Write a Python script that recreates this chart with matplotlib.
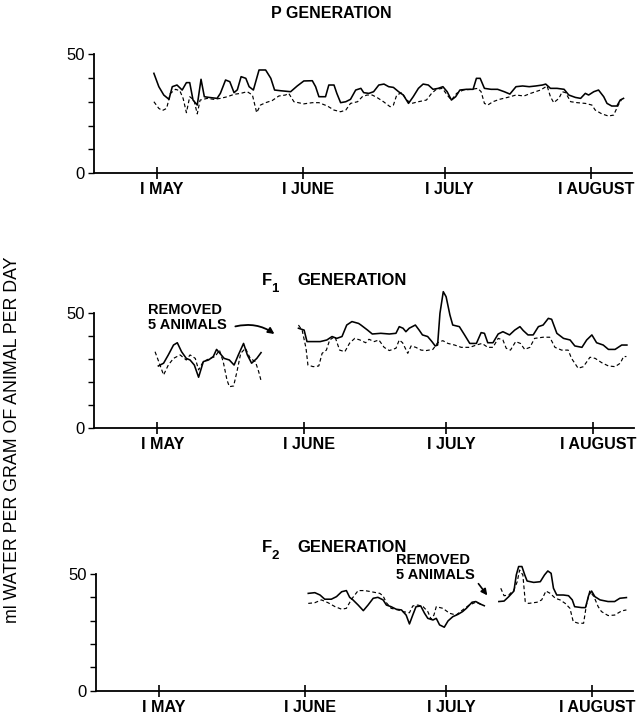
import matplotlib
matplotlib.use("Agg")
import matplotlib.pyplot as plt
import matplotlib.transforms as mtransforms

plt.rcParams['font.family'] = ['Liberation Sans', 'DejaVu Sans']

# ---------------- data (days since 1 May, ml water / g / day) ----------------
month_ticks = [0, 31, 61, 92]
month_labels = ["I MAY", "I JUNE", "I JULY", "I AUGUST"]

# P generation
p_solid_day = [-0.7, 0.35, 1.4, 2.5, 3.2, 4.2, 5.3, 6.2, 6.9, 7.6, 8.5, 9.3, 10.0, 11.0, 12.7, 13.4,
               14.5, 15.4, 16.3, 17.0, 17.8, 18.8, 19.5, 20.4, 21.6, 23.0, 24.1, 24.9, 26.2, 28.3,
               29.7, 31.1, 32.9, 33.6, 34.3, 35.7, 36.4, 37.5, 38.1, 38.9, 40.0, 41.0, 42.1, 43.2,
               43.8, 44.9, 45.9, 47.0, 48.1, 49.1, 50.1, 51.2, 52.2, 53.3, 54.3, 55.4, 56.4, 57.5,
               58.5, 59.6, 60.6, 61.5, 62.4, 63.3, 64.2, 65.6, 67.0, 67.7, 68.5, 69.4, 70.8, 72.2,
               73.6, 74.8, 76.1, 77.5, 78.9, 80.3, 81.7, 82.4, 83.4, 84.8, 86.3, 87.3, 88.7, 89.8,
               90.8, 91.5, 92.6, 93.6, 94.7, 95.4, 96.4, 97.5, 98.2, 98.9]
p_solid_val = [41.9, 36.3, 32.8, 31.0, 36.3, 37.0, 34.9, 38.0, 38.0, 30.7, 28.6, 39.4, 32.1, 31.8, 31.4, 33.5,
               39.1, 38.4, 33.8, 35.0, 40.5, 39.8, 36.3, 34.9, 43.3, 43.3, 39.8, 34.9, 34.6, 34.2,
               36.6, 38.7, 38.8, 36.3, 32.1, 32.1, 37.0, 37.0, 33.5, 29.6, 30.0, 31.0, 34.9, 35.6,
               33.8, 33.5, 34.2, 37.0, 37.4, 36.3, 36.0, 34.2, 32.8, 29.3, 32.1, 35.6, 37.4, 37.0,
               35.2, 35.6, 36.3, 34.2, 30.7, 32.1, 34.9, 35.2, 35.2, 39.8, 39.8, 35.6, 35.2, 35.2,
               34.2, 33.2, 36.3, 36.6, 36.3, 36.6, 37.0, 37.4, 35.6, 35.6, 35.2, 32.8, 31.8, 31.4,
               33.5, 32.8, 34.2, 34.9, 32.1, 29.3, 28.2, 28.2, 30.7, 31.4]
p_dash_day = [-0.7, 0.35, 1.1, 2.0, 2.8, 3.9, 4.8, 5.5, 6.2, 6.9, 7.8, 8.5, 9.1, 9.8, 10.6, 12.0, 13.4,
              14.9, 16.3, 17.7, 19.1, 20.2, 21.1, 21.9, 23.0, 24.4, 25.8, 27.2, 27.9, 29.0, 31.1,
              32.9, 34.3, 36.1, 37.5, 38.9, 40.0, 41.0, 42.5, 43.5, 44.5, 45.6, 46.6, 48.0, 49.4,
              50.1, 50.8, 51.9, 52.9, 54.0, 55.4, 57.1, 58.2, 59.2, 60.5, 61.5, 62.4, 63.5, 64.9,
              66.6, 68.0, 68.7, 69.4, 70.1, 71.2, 72.6, 74.3, 76.1, 77.8, 79.2, 81.3, 82.7, 83.4,
              84.1, 85.2, 85.9, 86.6, 87.7, 89.1, 90.8, 92.2, 92.9, 94.3, 95.7, 96.8, 97.8, 98.5]
p_dash_val = [30.0, 27.2, 26.3, 27.2, 33.5, 35.2, 34.6, 31.4, 25.4, 32.1, 30.7, 24.9, 30.7, 31.0, 31.4, 31.0, 31.4,
              32.1, 33.1, 33.5, 34.2, 32.8, 25.4, 28.6, 29.6, 30.5, 32.4, 32.8, 33.5, 30.0, 29.1,
              29.6, 29.6, 28.2, 26.5, 25.8, 26.5, 29.3, 30.0, 32.1, 32.8, 32.8, 31.8, 30.0, 27.9,
              28.6, 32.8, 33.8, 30.7, 29.3, 30.0, 30.7, 33.5, 35.2, 35.6, 32.8, 30.7, 33.5, 34.9,
              35.2, 35.6, 34.2, 29.3, 28.6, 30.0, 31.0, 31.8, 32.8, 32.4, 33.5, 34.9, 36.6, 32.1,
              29.6, 31.4, 34.2, 33.8, 30.0, 29.6, 29.3, 28.6, 26.5, 24.9, 24.0, 24.4, 28.6, 31.0]

# F1 generation, May segment
f1a_solid_day = [0.2, 1.3, 2.3, 3.4, 4.2, 5.1, 6.1, 6.9, 7.8, 8.7, 9.7, 10.8, 11.8, 12.5, 13.2, 14.1,
                 15.2, 16.2, 17.1, 18.2, 19.0, 19.9, 21.0, 21.9]
f1a_solid_val = [27.1, 28.3, 31.9, 36.2, 37.2, 33.3, 30.4, 29.7, 27.5, 22.2, 29.0, 29.7, 31.2, 34.3, 32.6, 30.4,
                 29.7, 27.5, 31.9, 36.9, 31.9, 28.3, 30.4, 32.9]
f1a_dash_day = [-0.5, 0.4, 1.3, 2.3, 3.4, 4.8, 6.1, 6.9, 8.0, 8.7, 9.7, 11.1, 12.2, 13.1, 13.9, 14.7,
                15.2, 16.1, 16.8, 17.6, 18.6, 19.6, 20.7, 21.4, 21.9]
f1a_dash_val = [33.3, 28.3, 23.2, 27.5, 30.4, 31.9, 29.7, 31.9, 30.4, 25.4, 29.0, 30.4, 31.2, 34.0, 29.0, 21.0,
                18.1, 18.4, 24.6, 32.6, 34.8, 30.4, 29.0, 24.6, 20.7]
# F1 generation, after removal
f1b_solid_day = [29.8, 31.0, 31.6, 33.0, 34.4, 35.8, 36.9, 37.9, 39.0, 40.0, 41.1, 42.5, 43.0, 44.4, 45.4,
                 47.2, 49.0, 50.4, 51.1, 51.9, 52.5, 53.2, 54.5, 55.3, 56.0, 57.1, 58.0, 58.7, 59.2,
                 59.7, 60.4, 61.0, 61.8, 62.4, 63.8, 64.9, 66.0, 67.4, 68.4, 69.1, 69.8, 70.9, 72.0,
                 73.0, 74.4, 75.5, 76.6, 77.3, 78.3, 79.4, 80.5, 81.5, 82.6, 83.3, 84.4, 85.8, 87.2,
                 88.2, 89.7, 90.7, 91.8, 92.8, 94.2, 95.3, 96.7, 98.1, 99.2]
f1b_solid_val = [43.5, 42.7, 37.7, 37.7, 37.7, 38.4, 39.9, 39.1, 39.9, 44.9, 46.4, 45.6, 44.9, 42.7, 41.0,
                 41.3, 41.0, 41.3, 44.2, 43.5, 42.0, 43.5, 44.9, 42.7, 40.6, 39.9, 37.7, 35.8, 36.2,
                 50.0, 59.4, 57.2, 49.3, 44.9, 44.2, 40.6, 36.9, 36.9, 41.6, 41.3, 37.2, 37.2, 41.0,
                 42.0, 40.6, 42.7, 44.2, 42.5, 40.6, 40.6, 44.2, 44.9, 47.8, 47.4, 41.3, 39.1, 38.4,
                 35.8, 35.2, 38.4, 40.6, 37.2, 36.2, 34.3, 34.3, 36.2, 36.2]
f1b_dash_day = [29.8, 30.6, 31.4, 31.8, 32.9, 34.1, 34.8, 35.7, 36.4, 37.5, 38.5, 39.6, 40.6, 41.7, 42.8,
                44.0, 44.7, 45.8, 46.8, 47.9, 49.0, 50.4, 51.1, 51.8, 52.9, 53.6, 54.6, 55.7, 56.8,
                58.2, 59.2, 60.3, 61.4, 62.8, 64.2, 66.0, 67.4, 68.6, 69.8, 70.9, 72.0, 73.0, 73.7,
                74.6, 75.7, 76.7, 77.6, 78.7, 79.7, 81.5, 82.9, 84.0, 85.4, 86.8, 87.5, 88.9, 90.0,
                91.4, 92.5, 93.9, 95.3, 96.7, 97.8, 98.5, 99.1]
f1b_dash_val = [44.9, 42.5, 34.8, 27.5, 26.8, 27.1, 32.6, 34.0, 38.4, 39.9, 34.0, 33.3, 37.0, 39.1, 38.4,
                37.2, 38.7, 37.7, 38.4, 35.2, 33.8, 34.8, 38.4, 37.2, 32.6, 35.8, 35.2, 34.0, 33.8,
                34.3, 37.2, 38.1, 36.9, 36.2, 35.2, 35.2, 36.2, 36.9, 35.2, 35.2, 39.1, 38.4, 34.8,
                34.0, 37.7, 36.9, 34.3, 35.2, 39.1, 39.6, 39.6, 35.2, 34.0, 34.0, 30.4, 26.1, 26.8,
                30.9, 30.4, 28.5, 27.1, 26.8, 28.3, 31.2, 31.2]

# F2 generation, before removal
f2a_solid_day = [31.7, 33.1, 34.2, 35.2, 36.6, 37.7, 38.8, 39.8, 40.5, 41.2, 42.3, 43.4, 44.4, 45.5, 46.5,
                 47.6, 48.3, 49.3, 50.4, 51.5, 52.5, 53.2, 53.9, 54.6, 55.6, 56.4, 57.1, 58.2, 58.9,
                 59.6, 60.6, 61.4, 62.4, 63.5, 64.5, 65.3, 66.5, 67.3, 68.4, 69.1]
f2a_solid_val = [41.7, 42.0, 41.0, 39.2, 39.2, 40.3, 42.4, 42.9, 40.0, 38.9, 36.7, 34.3, 36.7, 39.6, 40.0,
                 38.9, 36.7, 36.0, 34.9, 34.6, 32.4, 28.6, 32.4, 36.0, 36.3, 33.2, 31.0, 30.3, 31.0,
                 28.2, 27.2, 29.9, 31.7, 32.7, 33.9, 35.3, 37.9, 38.2, 37.0, 36.4]
f2a_dash_day = [31.7, 33.1, 34.5, 35.9, 37.4, 38.8, 39.8, 40.9, 42.3, 43.7, 45.1, 46.9, 47.6, 48.3, 49.3,
                50.8, 51.8, 53.2, 53.9, 55.0, 56.1, 57.1, 57.8, 58.4, 58.9, 60.3, 61.7, 63.1, 64.5,
                65.9, 67.3, 68.7]
f2a_dash_val = [37.4, 37.7, 38.9, 37.7, 36.0, 34.9, 35.3, 39.2, 42.9, 42.9, 42.4, 41.7, 40.6, 37.7, 35.3,
                34.6, 33.9, 33.4, 36.3, 36.7, 36.0, 33.9, 30.6, 32.4, 36.0, 35.3, 33.2, 32.4, 34.6,
                36.7, 37.9, 36.7]
# F2 generation, after removal
f2b_solid_day = [72.2, 73.3, 74.3, 75.4, 75.9, 76.4, 77.1, 77.7, 78.2, 79.6, 81.0, 81.9, 82.6, 83.3, 83.8,
                 84.5, 85.9, 87.0, 87.8, 88.3, 89.8, 90.6, 91.3, 91.9, 92.6, 93.7, 95.4, 96.8, 97.9, 99.3]
f2b_solid_val = [38.2, 38.4, 40.3, 42.7, 49.6, 53.2, 53.2, 49.6, 47.0, 46.4, 46.7, 49.6, 51.3, 50.3, 43.9,
                 41.0, 41.0, 40.7, 38.9, 36.0, 35.6, 35.6, 41.0, 42.7, 40.3, 38.9, 38.2, 38.2, 39.6, 39.9]
f2b_dash_day = [72.6, 73.3, 74.3, 75.4, 76.1, 76.6, 77.3, 77.8, 78.5, 80.3, 81.3, 82.2, 83.1, 84.2, 85.2,
                86.3, 87.3, 88.0, 89.1, 90.2, 90.8, 91.5, 92.4, 93.3, 94.0, 95.4, 96.8, 98.3, 99.3]
f2b_dash_val = [43.9, 40.7, 41.0, 43.2, 46.7, 51.7, 49.6, 38.2, 37.4, 37.9, 38.9, 42.7, 41.7, 39.6, 38.9,
                37.4, 35.3, 29.6, 28.9, 28.9, 36.7, 42.7, 40.3, 36.0, 33.9, 32.2, 32.4, 34.2, 34.6]

# ---------------- figure ----------------
W, H = 644, 716
fig = plt.figure(figsize=(W / 100, H / 100), dpi=100)

def ax_rect(left_px, right_px, top_px, bottom_px):
    return [left_px / W, 1 - bottom_px / H, (right_px - left_px) / W, (bottom_px - top_px) / H]

XLIM = (-13.4, 100.7)
solid_kw = dict(color='black', lw=1.15, solid_joinstyle='round', clip_on=False)
dash_kw = dict(color='black', lw=0.85, linestyle=(0, (3.2, 2.2)), clip_on=False)

shift = mtransforms.ScaledTranslation(5 / 100, 0, fig.dpi_scale_trans)

def style(ax):
    ax.set_xlim(*XLIM)
    ax.set_ylim(0, 50)
    for s in ('top', 'right'):
        ax.spines[s].set_visible(False)
    ax.spines['left'].set_linewidth(1.3)
    ax.spines['bottom'].set_linewidth(1.3)
    ax.set_yticks([0, 50])
    ax.set_yticklabels(['0', '50'])
    ax.set_yticks([10, 20, 30, 40], minor=True)
    ax.tick_params(axis='y', which='both', direction='out', length=4.5, width=1.0,
                   labelsize=12, pad=2)
    ax.set_xticks(month_ticks)
    ax.set_xticklabels(month_labels, fontweight='bold')
    ax.tick_params(axis='x', direction='inout', length=9, width=1.2, labelsize=11.6, pad=2)
    for lab in ax.get_xticklabels():
        lab.set_transform(lab.get_transform() + shift)
    ax.patch.set_alpha(0)

ax1 = fig.add_axes(ax_rect(94, 632, 54, 173.3))
ax2 = fig.add_axes(ax_rect(94, 634, 313.3, 428.3))
ax3 = fig.add_axes(ax_rect(96, 633, 574, 690.7))
for ax in (ax1, ax2, ax3):
    style(ax)

ax1.plot(p_solid_day, p_solid_val, **solid_kw)
ax1.plot(p_dash_day, p_dash_val, **dash_kw)

ax2.plot(f1a_solid_day, f1a_solid_val, **solid_kw)
ax2.plot(f1a_dash_day, f1a_dash_val, **dash_kw)
ax2.plot(f1b_solid_day, f1b_solid_val, **solid_kw)
ax2.plot(f1b_dash_day, f1b_dash_val, **dash_kw)

ax3.plot(f2a_solid_day, f2a_solid_val, **solid_kw)
ax3.plot(f2a_dash_day, f2a_dash_val, **dash_kw)
ax3.plot(f2b_solid_day, f2b_solid_val, **solid_kw)
ax3.plot(f2b_dash_day, f2b_dash_val, **dash_kw)

# annotations
ax2.text(-2.0, 48.2, "REMOVED\n5 ANIMALS", fontsize=10.5, fontweight='bold',
         ha='left', va='center', linespacing=1.1, clip_on=False)
ax2.annotate("", xy=(25.2, 40.3), xytext=(15.9, 44.0), annotation_clip=False,
             arrowprops=dict(arrowstyle='-|>', color='black', lw=1.3,
                             connectionstyle='arc3,rad=-0.25', mutation_scale=9))
ax3.text(50.4, 52.8, "REMOVED\n5 ANIMALS", fontsize=10.5, fontweight='bold',
         ha='left', va='center', linespacing=1.1, clip_on=False)
ax3.annotate("", xy=(70.1, 39.9), xytext=(67.5, 46.8), annotation_clip=False,
             arrowprops=dict(arrowstyle='-|>', color='black', lw=1.2, mutation_scale=9))

# titles
def fy(py):
    return 1 - py / H

fig.text(331 / W, fy(13), "P GENERATION", fontsize=11.5, fontweight='bold', ha='center', va='center')
for ty, sub in ((281, "1"), (548, "2")):
    fig.text(262 / W, fy(ty), "F", fontsize=12, fontweight='bold', ha='left', va='center')
    fig.text(271 / W, fy(ty + 8), sub, fontsize=9.5, fontweight='bold', ha='left', va='center')
    fig.text(297 / W, fy(ty), "GENERATION", fontsize=12, fontweight='bold', ha='left', va='center')

fig.text(13 / W, fy(440), "ml WATER PER GRAM OF ANIMAL PER DAY", fontsize=12.8, rotation=90,
         ha='center', va='center')

fig.savefig("out.png", dpi=100)
